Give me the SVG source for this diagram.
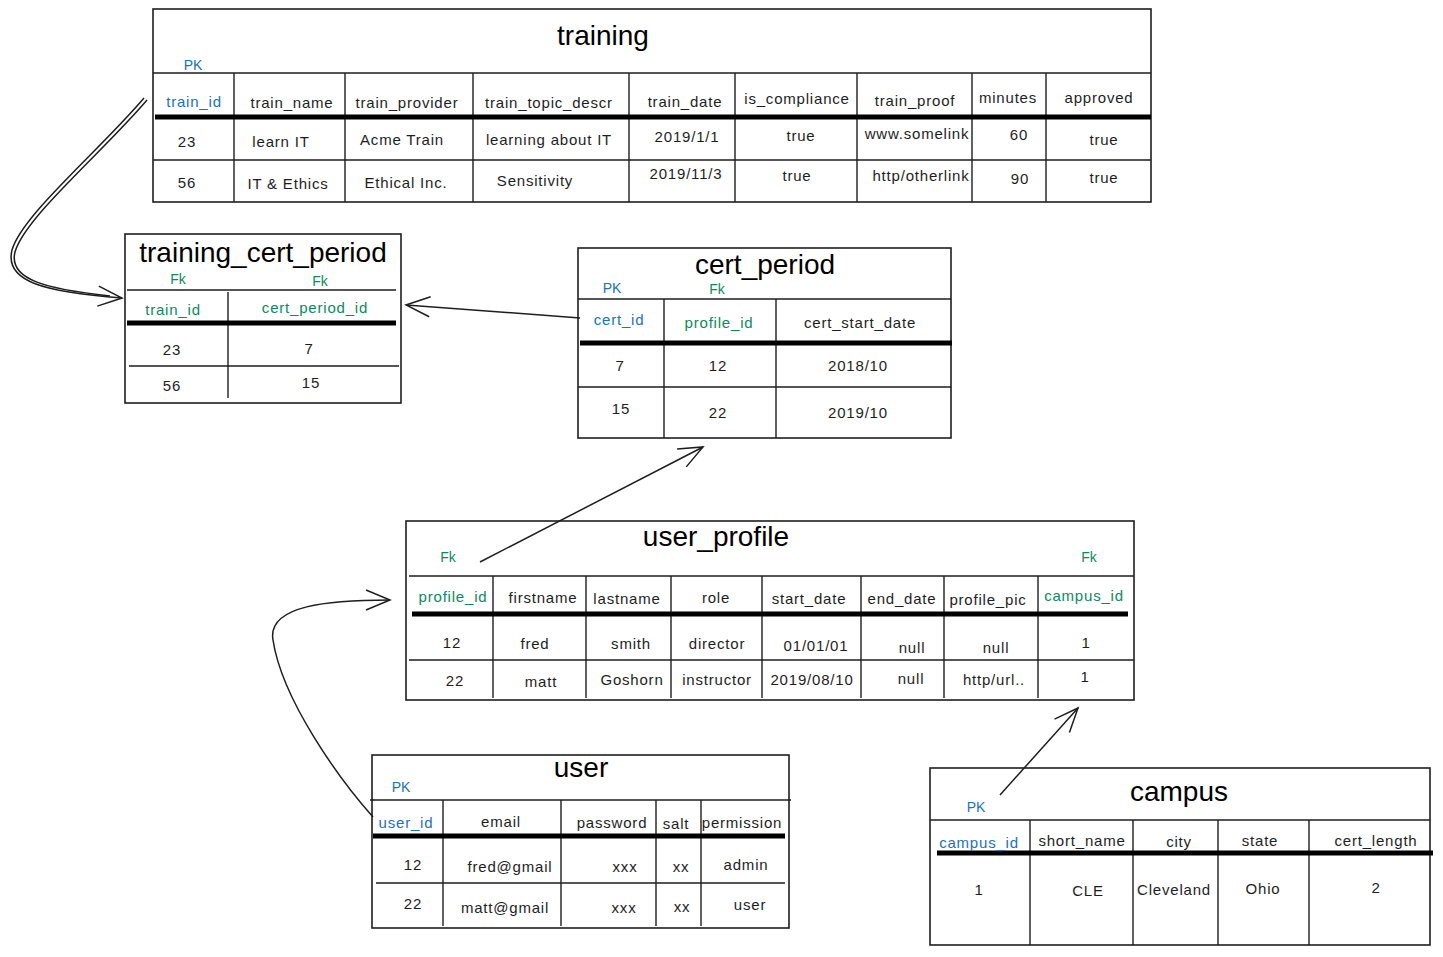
<svg xmlns="http://www.w3.org/2000/svg" width="1443" height="957" viewBox="0 0 1443 957">
  <style>
    .frame { fill: #ffffff; stroke: #1e1e1e; stroke-width: 1.6; }
    .ln { stroke: #1e1e1e; stroke-width: 1.4; fill: none; }
    .thick { stroke: #000000; stroke-width: 5; fill: none; }
    .title { font-family: "Liberation Sans", Arial, sans-serif; font-size: 28px; fill: #000; text-anchor: middle; dominant-baseline: central; }
    .c { font-family: "Liberation Sans", Arial, sans-serif; font-size: 15px; letter-spacing: 0.8px; fill: #1e1e1e; text-anchor: middle; dominant-baseline: central; }
    .pk { fill: #1971c2; }
    .fk { fill: #0c8a5c; }
    .tag { font-family: "Liberation Sans", Arial, sans-serif; font-size: 14px; text-anchor: middle; dominant-baseline: central; }
    .conn { stroke: #1e1e1e; stroke-width: 1.5; fill: none; }
  </style>
  <defs>
    <marker id="arrow" markerUnits="userSpaceOnUse" markerWidth="30" markerHeight="30" refX="26" refY="12" orient="auto">
      <path d="M2,2 L26,12 L2,22" fill="none" stroke="#1e1e1e" stroke-width="1.5"/>
    </marker>
  </defs>

  <rect width="1443" height="957" fill="#ffffff"/>

  <!-- training -->
  <g id="training">
    <rect class="frame" x="153" y="9" width="998" height="193"/>
    <text class="title" x="603" y="35">training</text>
    <text class="tag pk" x="193" y="65">PK</text>
    <path class="ln" d="M153,73 H1151 M153,160 H1151 M234,73 V202 M345,73 V202 M473,73 V202 M629,73 V202 M735,73 V202 M857,73 V202 M972,73 V202 M1046,73 V202"/>
    <path class="thick" d="M155,117 H1151"/>
    <text class="c pk" x="194" y="101">train_id</text>
    <text class="c" x="292" y="102">train_name</text>
    <text class="c" x="407" y="102">train_provider</text>
    <text class="c" x="549" y="102">train_topic_descr</text>
    <text class="c" x="685" y="101">train_date</text>
    <text class="c" x="797" y="98">is_compliance</text>
    <text class="c" x="915" y="100">train_proof</text>
    <text class="c" x="1008" y="97">minutes</text>
    <text class="c" x="1099" y="97">approved</text>
    <text class="c" x="187" y="141">23</text>
    <text class="c" x="281" y="141">learn IT</text>
    <text class="c" x="402" y="139">Acme Train</text>
    <text class="c" x="549" y="139">learning about IT</text>
    <text class="c" x="687" y="136">2019/1/1</text>
    <text class="c" x="801" y="135">true</text>
    <text class="c" x="917" y="133">www.somelink</text>
    <text class="c" x="1019" y="134">60</text>
    <text class="c" x="1104" y="139">true</text>
    <text class="c" x="187" y="182">56</text>
    <text class="c" x="288" y="183">IT &amp; Ethics</text>
    <text class="c" x="406" y="182">Ethical Inc.</text>
    <text class="c" x="535" y="180">Sensitivity</text>
    <text class="c" x="686" y="173">2019/11/3</text>
    <text class="c" x="797" y="175">true</text>
    <text class="c" x="921" y="175">http/otherlink</text>
    <text class="c" x="1020" y="178">90</text>
    <text class="c" x="1104" y="177">true</text>
  </g>

  <!-- training_cert_period -->
  <g id="training_cert_period">
    <rect class="frame" x="125" y="234" width="276" height="169"/>
    <text class="title" x="263" y="252">training_cert_period</text>
    <text class="tag fk" x="178" y="279">Fk</text>
    <text class="tag fk" x="320" y="281">Fk</text>
    <path class="ln" d="M127,290 H396 M129,366 H399 M228,292 V398"/>
    <path class="thick" d="M127,323 H396"/>
    <text class="c fk" x="173" y="309">train_id</text>
    <text class="c fk" x="315" y="307">cert_period_id</text>
    <text class="c" x="172" y="349">23</text>
    <text class="c" x="309" y="348">7</text>
    <text class="c" x="172" y="385">56</text>
    <text class="c" x="311" y="382">15</text>
  </g>

  <!-- cert_period -->
  <g id="cert_period">
    <rect class="frame" x="578" y="248" width="373" height="190"/>
    <text class="title" x="765" y="264">cert_period</text>
    <text class="tag pk" x="612" y="288">PK</text>
    <text class="tag fk" x="717" y="289">Fk</text>
    <path class="ln" d="M578,299 H951 M578,387 H951 M664,299 V438 M776,299 V438"/>
    <path class="thick" d="M580,343 H952"/>
    <text class="c pk" x="619" y="319">cert_id</text>
    <text class="c fk" x="719" y="322">profile_id</text>
    <text class="c" x="860" y="322">cert_start_date</text>
    <text class="c" x="620" y="365">7</text>
    <text class="c" x="718" y="365">12</text>
    <text class="c" x="858" y="365">2018/10</text>
    <text class="c" x="621" y="408">15</text>
    <text class="c" x="718" y="412">22</text>
    <text class="c" x="858" y="412">2019/10</text>
  </g>

  <!-- user_profile -->
  <g id="user_profile">
    <rect class="frame" x="406" y="521" width="728" height="179"/>
    <text class="title" x="716" y="536">user_profile</text>
    <text class="tag fk" x="448" y="557">Fk</text>
    <text class="tag fk" x="1089" y="557">Fk</text>
    <path class="ln" d="M409,576 H1134 M409,660 H1134 M493,576 V698 M586,576 V698 M671,576 V698 M762,576 V698 M861,576 V698 M944,576 V698 M1038,576 V698"/>
    <path class="thick" d="M412,614 H1128"/>
    <text class="c fk" x="453" y="596">profile_id</text>
    <text class="c" x="543" y="597">firstname</text>
    <text class="c" x="627" y="598">lastname</text>
    <text class="c" x="716" y="597">role</text>
    <text class="c" x="809" y="598">start_date</text>
    <text class="c" x="902" y="598">end_date</text>
    <text class="c" x="988" y="599">profile_pic</text>
    <text class="c fk" x="1084" y="595">campus_id</text>
    <text class="c" x="452" y="642">12</text>
    <text class="c" x="535" y="643">fred</text>
    <text class="c" x="631" y="643">smith</text>
    <text class="c" x="717" y="643">director</text>
    <text class="c" x="816" y="645">01/01/01</text>
    <text class="c" x="912" y="647">null</text>
    <text class="c" x="996" y="647">null</text>
    <text class="c" x="1086" y="642">1</text>
    <text class="c" x="455" y="680">22</text>
    <text class="c" x="541" y="681">matt</text>
    <text class="c" x="632" y="679">Goshorn</text>
    <text class="c" x="717" y="679">instructor</text>
    <text class="c" x="812" y="679">2019/08/10</text>
    <text class="c" x="911" y="678">null</text>
    <text class="c" x="994" y="679">http/url..</text>
    <text class="c" x="1085" y="676">1</text>
  </g>

  <!-- user -->
  <g id="user">
    <rect class="frame" x="372" y="755" width="417" height="173"/>
    <text class="title" x="581" y="767">user</text>
    <text class="tag pk" x="401" y="787">PK</text>
    <path class="ln" d="M370,800 H791 M376,883 H785 M443,800 V926 M561,800 V926 M656,800 V926 M701,800 V926"/>
    <path class="thick" d="M373,836 H785"/>
    <text class="c pk" x="406" y="822">user_id</text>
    <text class="c" x="501" y="821">email</text>
    <text class="c" x="612" y="822">password</text>
    <text class="c" x="676" y="823">salt</text>
    <text class="c" x="742" y="822">permission</text>
    <text class="c" x="413" y="864">12</text>
    <text class="c" x="510" y="866">fred@gmail</text>
    <text class="c" x="625" y="866">xxx</text>
    <text class="c" x="681" y="866">xx</text>
    <text class="c" x="746" y="864">admin</text>
    <text class="c" x="413" y="903">22</text>
    <text class="c" x="505" y="907">matt@gmail</text>
    <text class="c" x="624" y="907">xxx</text>
    <text class="c" x="682" y="906">xx</text>
    <text class="c" x="750" y="904">user</text>
  </g>

  <!-- campus -->
  <g id="campus">
    <rect class="frame" x="930" y="768" width="500" height="177"/>
    <text class="title" x="1179" y="791">campus</text>
    <text class="tag pk" x="976" y="807">PK</text>
    <path class="ln" d="M930,820 H1430 M1030,820 V945 M1133,820 V945 M1218,820 V945 M1309,820 V945"/>
    <path class="thick" d="M937,853 H1433"/>
    <text class="c pk" x="979" y="842">campus_id</text>
    <text class="c" x="1082" y="840">short_name</text>
    <text class="c" x="1179" y="841">city</text>
    <text class="c" x="1260" y="840">state</text>
    <text class="c" x="1376" y="840">cert_length</text>
    <text class="c" x="979" y="889">1</text>
    <text class="c" x="1088" y="890">CLE</text>
    <text class="c" x="1174" y="889">Cleveland</text>
    <text class="c" x="1263" y="888">Ohio</text>
    <text class="c" x="1376" y="887">2</text>
  </g>

  <!-- relationships -->
  <g id="connectors">
    <path class="conn" marker-end="url(#arrow)" d="M144,98 C100,150 22,215 12,250 C4,282 45,292 122,298"/>
    <path class="conn" d="M147,100 C103,152 25,217 15,252 C8,280 47,289 110,296"/>
    <path class="conn" marker-end="url(#arrow)" d="M580,318 L406,305"/>
    <path class="conn" marker-end="url(#arrow)" d="M480,562 L703,447"/>
    <path class="conn" marker-end="url(#arrow)" d="M373,817 C340,780 282,700 273,640 C267,605 330,600 390,600"/>
    <path class="conn" marker-end="url(#arrow)" d="M1000,795 L1078,708"/>
  </g>
</svg>
